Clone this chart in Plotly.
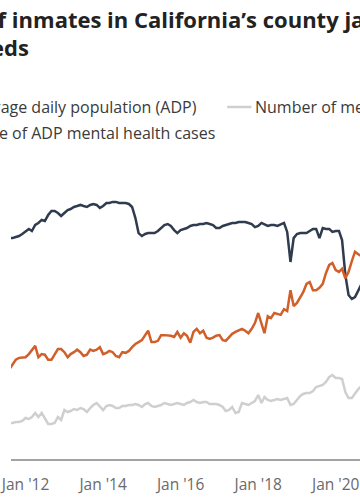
import pandas as pd
import plotly.graph_objects as go

# Monthly observations, Aug 2011 .. Sep 2020
months = pd.date_range("2011-08-01", periods=110, freq="MS")

adp = [69900, 69900, 70250, 70550, 71200, 72150, 72800, 72150, 74050, 74700,
       75650, 75300, 77200, 78500, 78500, 77850, 76900, 77850, 78800, 79100,
       79750, 80050, 80400, 80050, 79750, 80400, 80700, 80400, 79450, 80050,
       81000, 81000, 81350, 81350, 81000, 81000, 81000, 80700, 79750, 76250,
       71500, 70550, 71200, 71500, 71500, 71500, 72150, 73100, 74050, 74350,
       73750, 72450, 71500, 72450, 72800, 73100, 73750, 74050, 74050, 74350,
       74350, 74700, 74350, 74050, 73100, 73100, 73750, 74050, 74350, 74700,
       74700, 75000, 75000, 75000, 74700, 74350, 73400, 73750, 74700, 74350,
       73750, 74050, 74050, 73750, 74350, 74700, 71850, 62350, 69900, 71200,
       71500, 71500, 71500, 72150, 72800, 72800, 69900, 73100, 72800, 72800,
       71850, 72150, 72150, 69300, 58250, 51900, 50650, 51250, 53500, 55400]

mh_cases = [11390, 11390, 11710, 11710, 12030, 12970, 12660, 13290, 14560, 13290,
            14560, 12970, 11080, 11080, 11390, 13290, 12340, 15510, 14870, 15190,
            15820, 15510, 16140, 15820, 14870, 16140, 17090, 17720, 16460, 15510,
            16770, 17090, 16770, 16140, 16140, 16770, 16770, 17090, 17090, 17410,
            17090, 16460, 17410, 17720, 16770, 16460, 16770, 17090, 17720, 17410,
            17090, 17410, 17720, 17410, 17090, 17720, 18040, 18670, 18040, 17720,
            18040, 18040, 17410, 17410, 17410, 17090, 16460, 15190, 15510, 16460,
            14560, 14870, 17720, 17410, 17090, 17720, 18350, 20250, 17720, 19620,
            18670, 18350, 18670, 18990, 18670, 18990, 19300, 17090, 17410, 18670,
            19940, 20570, 20890, 20890, 21520, 22790, 23100, 23420, 24370, 25950,
            26580, 25630, 25630, 25320, 21200, 19300, 19300, 20890, 22150, 23100]

mh_pct = [14.2, 15.0, 15.7, 16.0, 16.1, 16.1, 16.6, 17.3, 17.9, 16.1,
          16.6, 16.5, 15.7, 15.7, 16.5, 17.4, 17.4, 16.9, 16.1, 16.6,
          16.9, 17.3, 16.9, 16.3, 16.5, 17.3, 17.1, 17.3, 17.7, 16.6,
          16.8, 17.1, 16.9, 16.3, 16.1, 16.9, 16.8, 17.1, 17.7, 18.2,
          18.5, 18.8, 19.6, 20.3, 18.5, 18.5, 18.7, 19.6, 19.6, 19.6,
          19.5, 19.3, 20.1, 19.2, 19.9, 19.5, 18.4, 20.1, 20.6, 19.9,
          20.3, 19.2, 19.0, 19.2, 19.5, 19.6, 18.8, 18.7, 19.3, 19.8,
          20.1, 20.3, 20.6, 20.3, 19.9, 20.6, 21.5, 23.1, 21.4, 19.9,
          22.6, 22.3, 23.1, 22.9, 22.8, 23.7, 23.4, 26.7, 24.2, 24.7,
          25.6, 26.4, 27.7, 28.0, 26.7, 26.7, 27.1, 27.7, 29.4, 30.7,
          31.0, 29.9, 29.6, 30.1, 28.6, 29.6, 31.3, 32.8, 32.4, 32.1]

tick_vals = ["2012-01-01", "2014-01-01", "2016-01-01", "2018-01-01", "2020-01-01"]
tick_text = ["Jan '12", "Jan '14", "Jan '16", "Jan '18", "Jan '20"]

NAVY = "#2f3b4f"
ORANGE = "#d15f2a"
GREY = "#cfcfcf"
FONT = "Open Sans"

W, H = 360, 504
TOP, BOTTOM = 143, 459  # plot area in pixels


def px(x):
    return x / W


def py(y):
    return (BOTTOM - y) / (BOTTOM - TOP)


fig = go.Figure()
fig.add_trace(go.Scatter(x=months, y=mh_cases, mode="lines", name="Number of mental health cases",
                         line=dict(color=GREY, width=2.5)))
fig.add_trace(go.Scatter(x=months, y=adp, mode="lines", name="Average daily population (ADP)",
                         line=dict(color=NAVY, width=2.5)))
fig.add_trace(go.Scatter(x=months, y=mh_pct, mode="lines", yaxis="y2",
                         name="Percentage of ADP mental health cases",
                         line=dict(color=ORANGE, width=2.5)))

TITLE_FONT = dict(size=22, color="#222222", family=FONT)
LEG_FONT = dict(size=16, color="#3a3a3a", family=FONT)

ann = []
ann.append(dict(text="<b>of inmates in California’s county jails with</b>", x=px(-30), y=py(19),
                xanchor="left", align="left", yanchor="middle", font=TITLE_FONT))
ann.append(dict(text="<b>mental health needs</b>", x=px(21), y=py(47),
                xanchor="right", align="right", yanchor="middle", font=TITLE_FONT))
ann.append(dict(text="Average daily population (ADP)", x=px(194), y=py(107),
                xanchor="right", align="right", yanchor="middle", font=LEG_FONT))
ann.append(dict(text="Number of mental health cases", x=px(250), y=py(107),
                xanchor="left", align="left", yanchor="middle", font=LEG_FONT))
ann.append(dict(text="Percentage of ADP mental health cases", x=px(213), y=py(133),
                xanchor="right", align="right", yanchor="middle", font=LEG_FONT))
for a in ann:
    a.update(xref="paper", yref="paper", showarrow=False)

fig.update_layout(
    width=W, height=H, autosize=False,
    margin=dict(l=0, r=0, t=TOP, b=H - BOTTOM, pad=0),
    paper_bgcolor="white", plot_bgcolor="white",
    showlegend=False,
    annotations=ann,
    shapes=[dict(type="line", xref="paper", yref="paper", x0=px(223), x1=px(248),
                 y0=py(107), y1=py(107), line=dict(color=GREY, width=2.5))],
    xaxis=dict(range=["2011-08-17", "2020-08-17"], showgrid=False, zeroline=False,
               showline=True, linecolor="#a3a3a3", linewidth=2,
               tickvals=tick_vals, ticktext=tick_text, ticks="",
               ticklabeloverflow="allow", ticklabelstandoff=10,
               tickfont=dict(size=15.5, color="#6a6a6a", family=FONT)),
    yaxis=dict(range=[0, 100000], visible=False, fixedrange=True),
    yaxis2=dict(range=[0, 50], visible=False, overlaying="y", fixedrange=True),
)

fig.write_html("out.html", config={"displayModeBar": False},
               post_script="document.body.style.margin='0';document.body.style.overflow='hidden';")
